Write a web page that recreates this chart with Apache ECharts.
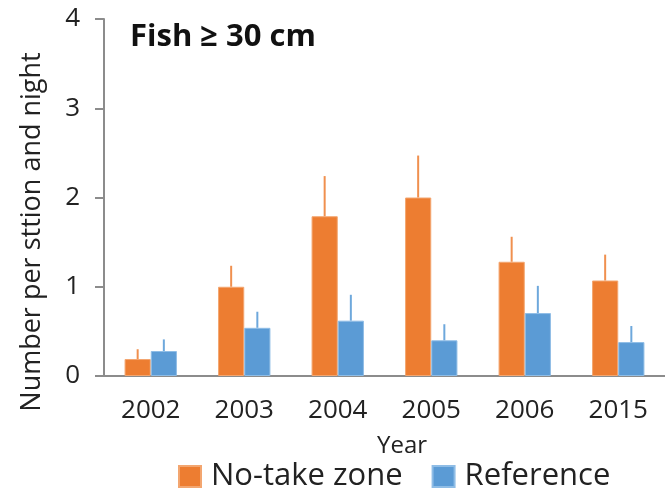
<!DOCTYPE html>
<html>
<head>
<meta charset="utf-8">
<script src="https://cdn.jsdelivr.net/npm/echarts@6/dist/echarts.min.js"></script>
<style>
  html, body { margin: 0; padding: 0; background: #fff; }
  #chart { width: 665px; height: 489px; }
</style>
</head>
<body>
<div id="chart"></div>
<script>
// Catch of fish >= 30 cm, mean number per station and night (+ upper error bar)
const years = ['2002', '2003', '2004', '2005', '2006', '2015'];
const noTakeMean = [0.19, 1.00, 1.79, 2.00, 1.28, 1.07];
const noTakeErr  = [0.11, 0.235, 0.45, 0.47, 0.28, 0.29];
const refMean    = [0.28, 0.54, 0.62, 0.40, 0.705, 0.38];
const refErr     = [0.13, 0.18, 0.29, 0.18, 0.305, 0.18];
const yTicks = [0, 1, 2, 3, 4];

const ORANGE = '#ED7D31';
const BLUE = '#5B9BD5';
const FONT = '"Open Sans", Lato, sans-serif';

// error bar: single upward whisker from the bar top, centred on the bar
function errorBar(shift, color) {
  return function (params, api) {
    const idx = api.value(0);
    const mean = api.value(1);
    const err = api.value(2);
    const band = api.size([1, 0])[0];
    const p0 = api.coord([idx, mean]);
    const p1 = api.coord([idx, mean + err]);
    const x = p0[0] + band * shift;
    return {
      type: 'line',
      shape: { x1: x, y1: p0[1], x2: x, y2: p1[1] },
      style: { stroke: color, lineWidth: 2 }
    };
  };
}

const chart = echarts.init(document.getElementById('chart'), null, { renderer: 'canvas' });
chart.setOption({
  animation: false,
  backgroundColor: '#fff',
  title: {
    text: 'Fish \u2265 30 cm',
    left: 125, top: 17,
    textStyle: { fontFamily: FONT, fontWeight: 'bold', fontSize: 31, color: '#111' }
  },
  legend: {
    data: ['No-take zone', 'Reference'],
    left: 178, top: 461, padding: 0,
    icon: 'rect', itemWidth: 22, itemHeight: 21, itemGap: 29,
    textStyle: { fontFamily: FONT, fontSize: 31, color: '#222', padding: [0, 0, 0, 5] }
  },
  grid: { left: 104, top: 19, right: -17, bottom: 113, containLabel: false },
  xAxis: {
    type: 'category',
    data: years,
    boundaryGap: true,
    axisLine: { lineStyle: { color: '#8c8c8c', width: 2 } },
    axisTick: { alignWithLabel: true, length: 9, lineStyle: { color: '#8c8c8c', width: 2 } },
    axisLabel: { fontFamily: FONT, fontSize: 26, color: '#222', margin: 22 },
    splitLine: { show: false }
  },
  yAxis: {
    type: 'value',
    min: yTicks[0], max: yTicks[yTicks.length - 1], interval: 1,
    axisLine: { show: true, lineStyle: { color: '#8c8c8c', width: 2 } },
    axisTick: { show: true, length: 9, lineStyle: { color: '#8c8c8c', width: 2 } },
    axisLabel: { fontFamily: FONT, fontSize: 26, color: '#222', margin: 24 },
    splitLine: { show: false }
  },
  graphic: [
    {
      type: 'text',
      x: 32, y: 232,
      rotation: Math.PI / 2,
      style: {
        text: 'Number per sttion and night',
        font: '27px ' + FONT, fill: '#222',
        textAlign: 'center', textVerticalAlign: 'middle'
      }
    },
    {
      type: 'text',
      x: 402, y: 446,
      style: {
        text: 'Year', font: '24px ' + FONT, fill: '#222',
        textAlign: 'center', textVerticalAlign: 'middle'
      }
    }
  ],
  series: [
    {
      name: 'No-take zone', type: 'bar', data: noTakeMean,
      barWidth: '28%', barGap: '0%',
      itemStyle: { color: ORANGE, borderColor: '#f3a670', borderWidth: 1 }
    },
    {
      name: 'Reference', type: 'bar', data: refMean,
      barWidth: '28%', barGap: '0%',
      itemStyle: { color: BLUE, borderColor: '#8fbde6', borderWidth: 1 }
    },
    {
      type: 'custom', name: 'No-take zone error', silent: true, z: 3,
      renderItem: errorBar(-0.14, '#f0904f'),
      data: years.map((y, i) => [i, noTakeMean[i], noTakeErr[i]]),
      encode: { x: 0, y: 1 }
    },
    {
      type: 'custom', name: 'Reference error', silent: true, z: 3,
      renderItem: errorBar(0.14, '#6ea8dc'),
      data: years.map((y, i) => [i, refMean[i], refErr[i]]),
      encode: { x: 0, y: 1 }
    }
  ]
});
</script>
</body>
</html>
